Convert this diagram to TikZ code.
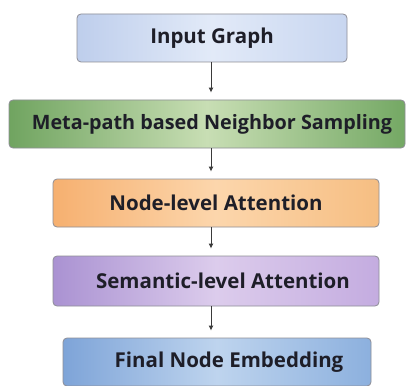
\documentclass[tikz,border=0pt]{standalone}
\usepackage{fontspec}
\setmainfont{Open Sans}
\usetikzlibrary{arrows.meta}
\definecolor{bord}{HTML}{8E8E96}
\definecolor{arr}{HTML}{3A3A3A}
\definecolor{txt}{HTML}{1E1E28}
\tikzset{
  box/.style={draw=bord, line width=0.8pt, rounded corners=4pt, minimum height=48pt,
    inner sep=0pt, font=\fontsize{20.5}{24}\selectfont\bfseries, text=txt},
  flowarrow/.style={draw=arr, line width=1pt, -{Latex[length=5pt,width=5pt]}, shorten >=7pt}
}
\begin{document}
\begin{tikzpicture}[x=1pt,y=-1pt]
\useasboundingbox (0,0) rectangle (409,385);
\clip (0,0) rectangle (409,385);
\fill[white] (0,0) rectangle (409,385);
\node[box, minimum width=270pt, left color={rgb,255:red,190;green,206;blue,236}, right color={rgb,255:red,200;green,214;blue,240}, middle color={rgb,255:red,226;green,234;blue,248}]
  (ig) at (212,38) {Input Graph};
\node[box, minimum width=396pt, left color={rgb,255:red,112;green,164;blue,96}, right color={rgb,255:red,116;green,168;blue,100}, middle color={rgb,255:red,200;green,222;blue,180}]
  (ms) at (207,124) {\hspace*{10pt}\fontsize{19.8}{24}\selectfont Meta-path based Neighbor Sampling};
\node[box, minimum width=326pt, left color={rgb,255:red,246;green,176;blue,112}, right color={rgb,255:red,246;green,190;blue,130}, middle color={rgb,255:red,252;green,214;blue,172}]
  (nl) at (216,203) {Node-level Attention};
\node[box, minimum width=326pt, minimum height=50pt, left color={rgb,255:red,170;green,146;blue,210}, right color={rgb,255:red,196;green,172;blue,224}, middle color={rgb,255:red,220;green,204;blue,236}]
  (sl) at (216,281) {\hspace*{14pt}Semantic-level Attention};
\node[box, minimum width=308pt, left color={rgb,255:red,126;green,164;blue,216}, right color={rgb,255:red,140;green,176;blue,222}, middle color={rgb,255:red,190;green,212;blue,238}]
  (fe) at (217,362) {\hspace*{24pt}Final Node Embedding};
\coordinate (ax) at (211,0);
\draw[flowarrow] (ig.south -| ax) -- (ms.north -| ax);
\draw[flowarrow] (ms.south -| ax) -- (nl.north -| ax);
\draw[flowarrow] (nl.south -| ax) -- (sl.north -| ax);
\draw[flowarrow] (sl.south -| ax) -- (fe.north -| ax);
\end{tikzpicture}
\end{document}
